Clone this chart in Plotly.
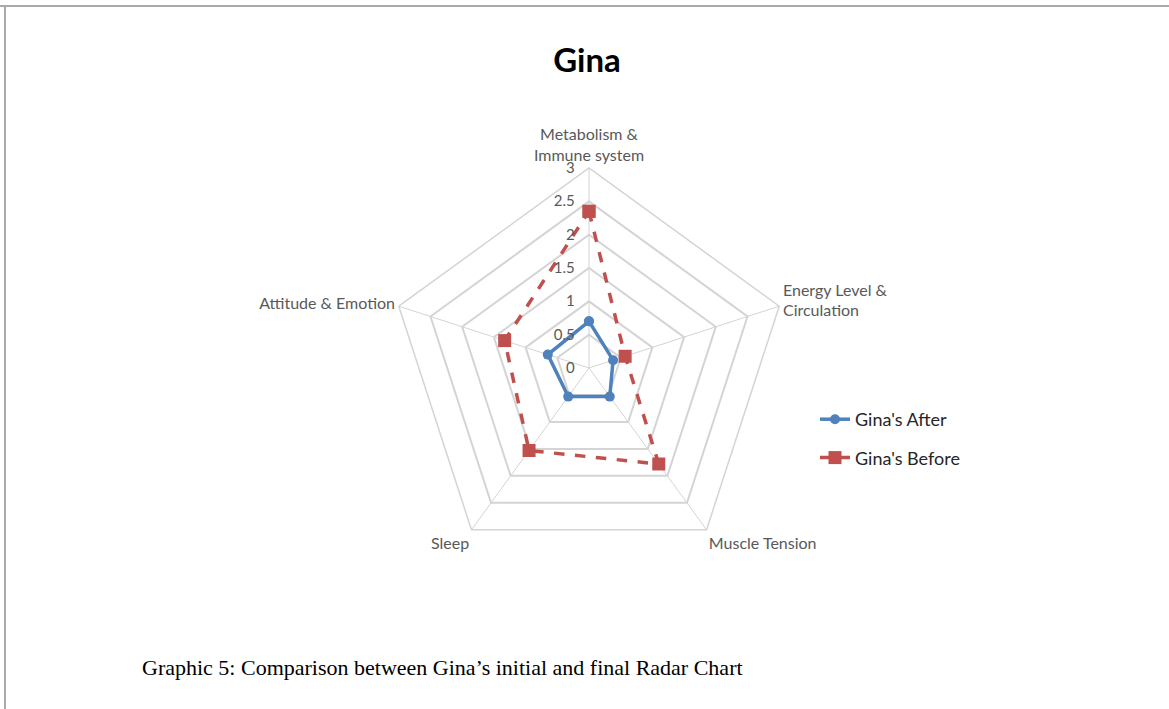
import plotly.graph_objects as go

categories = ["Metabolism &<br>Immune system", "Energy Level &<br>Circulation",
              "Muscle Tension", "Sleep", "Attitude & Emotion"]
after_vals = [0.7, 0.38, 0.53, 0.53, 0.65]
before_vals = [2.35, 0.57, 1.78, 1.53, 1.33]
series_names = ["Gina's After", "Gina's Before"]
radial_ticks = [0, 0.5, 1, 1.5, 2, 2.5, 3]
radial_ticktext = ["0", "0.5", "1", "1.5", "2", "2.5", "3"]

W, H = 1169, 709
cx, cy, R = 589, 368, 200

fig = go.Figure()
fig.add_trace(go.Scatterpolar(
    r=after_vals + after_vals[:1], theta=categories + categories[:1],
    name=series_names[0], mode="lines+markers", legendgroup="a",
    line=dict(color="#4f81bd", width=3.5),
    marker=dict(symbol="circle", size=10, color="#4f81bd"),
))
fig.add_trace(go.Scatterpolar(
    r=before_vals + before_vals[:1], theta=categories + categories[:1],
    name=series_names[1], mode="lines+markers", legendgroup="b",
    line=dict(color="#c0504d", width=3.5, dash="dash"),
    marker=dict(symbol="square", size=13, color="#c0504d"),
))

pad = "\u00a0" * 3
fig.update_layout(
    width=W, height=H,
    margin=dict(l=0, r=0, t=0, b=0),
    paper_bgcolor="white",
    font=dict(family="Lato, Open Sans, sans-serif", size=16, color="#595959"),
    title=dict(text="<b>Gina</b>", x=587 / W, xanchor="center", y=1 - 60 / H, yanchor="middle",
               font=dict(size=33, color="black", family="Lato, Open Sans, sans-serif")),
    polar=dict(
        domain=dict(x=[(cx - R) / W, (cx + R) / W], y=[1 - (cy + R) / H, 1 - (cy - R) / H]),
        gridshape="linear",
        bgcolor="white",
        angularaxis=dict(rotation=90, direction="clockwise", showline=True,
                         linecolor="#d4d4d4", linewidth=1.5, gridcolor="#d4d4d4", gridwidth=1,
                         tickfont=dict(size=16, color="#595959"), ticks=""),
        radialaxis=dict(range=[0, 3], tickvals=radial_ticks,
                        ticktext=[t + pad for t in radial_ticktext],
                        angle=90, tickangle=90, showline=False, gridcolor="#d4d4d4",
                        gridwidth=1.5, ticks="", tickfont=dict(size=15, color="#595959"),
                        side="counterclockwise"),
    ),
    legend=dict(x=815 / W, y=1 - 401 / H, xanchor="left", yanchor="top",
                font=dict(size=18, color="#262626"), tracegroupgap=12,
                traceorder="grouped", bgcolor="rgba(0,0,0,0)"),
    annotations=[dict(text="Graphic 5: Comparison between Gina\u2019s initial and final Radar Chart",
                      x=140 / W, y=1 - 667 / H, xref="paper", yref="paper",
                      xanchor="left", yanchor="middle", showarrow=False,
                      font=dict(family="Liberation Serif, Times New Roman, serif", size=22, color="black"))],
    shapes=[
        dict(type="line", xref="paper", yref="paper", x0=0, x1=1, y0=1 - 6 / H, y1=1 - 6 / H,
             line=dict(color="#aaaaaa", width=2)),
        dict(type="line", xref="paper", yref="paper", x0=5 / W, x1=5 / W, y0=0, y1=1 - 6 / H,
             line=dict(color="#aaaaaa", width=2)),
    ],
)

fig.write_html("out.html")
